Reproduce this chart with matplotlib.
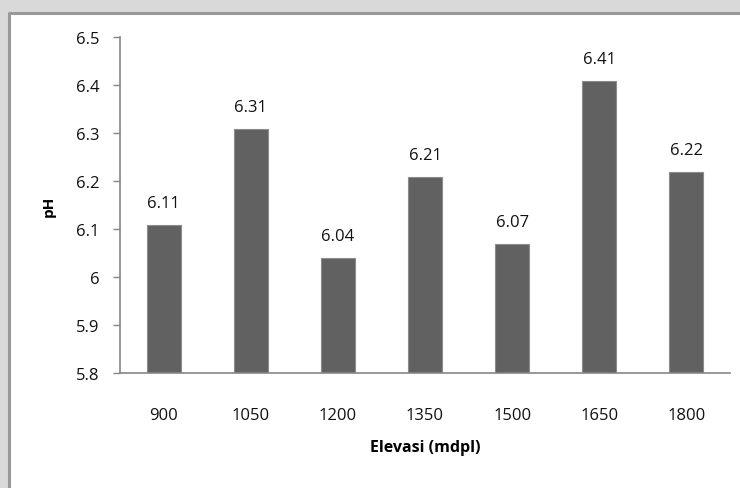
import matplotlib.pyplot as plt
from matplotlib.patches import Rectangle
from matplotlib.lines import Line2D

plt.rcParams['font.family'] = ['Open Sans', 'DejaVu Sans']

elevasi = ['900', '1050', '1200', '1350', '1500', '1650', '1800']
ph = [6.11, 6.31, 6.04, 6.21, 6.07, 6.41, 6.22]
yticks = [5.8, 5.9, 6.0, 6.1, 6.2, 6.3, 6.4, 6.5]
ytick_labels = ['5.8', '5.9', '6', '6.1', '6.2', '6.3', '6.4', '6.5']

fig = plt.figure(figsize=(7.4, 4.89), dpi=100)
fig.patch.set_facecolor('#d9d9d9')

# white chart panel, grey frame visible only on the top and left edges
px, py = 9 / 740, (489 - 14) / 489
fig.patches.append(Rectangle((px, 0), 1 - px, py, transform=fig.transFigure,
                             facecolor='white', edgecolor='none', zorder=-2))
fig.add_artist(Line2D([px, px, 1], [0, py, py], transform=fig.transFigure,
                      color='#999999', linewidth=2.2, zorder=-1))

ax = fig.add_axes([120 / 740, (489 - 374.3) / 489,
                   610 / 740, (374.3 - 38.3) / 489])
ax.set_facecolor('none')

x = range(len(elevasi))
bars = ax.bar(x, ph, width=0.39, bottom=0, color='#616161',
              edgecolor='#8c8c8c', linewidth=0.8)

for xi, v in zip(x, ph):
    ax.annotate(f'{v:.2f}', (xi, v), xytext=(0, 10), textcoords='offset points',
                ha='center', va='bottom', fontsize=12, color='#111111')

ax.set_xlim(-0.5, len(elevasi) - 0.5)
ax.set_ylim(5.8, 6.5)
ax.set_yticks(yticks)
ax.set_yticklabels(ytick_labels)
ax.set_xticks(list(x))
ax.set_xticklabels(elevasi)

for s in ['top', 'right']:
    ax.spines[s].set_visible(False)
for s in ['left', 'bottom']:
    ax.spines[s].set_color('#868686')
    ax.spines[s].set_linewidth(1.2)

ax.tick_params(axis='y', length=5, width=1, color='#868686',
               labelsize=12, labelcolor='#111111', pad=10)
ax.tick_params(axis='x', length=0, labelsize=12, labelcolor='#111111', pad=24)

ax.set_ylabel('pH', fontsize=11, fontweight='bold', labelpad=14)
ax.set_xlabel('Elevasi (mdpl)', fontsize=11.5, fontweight='bold', labelpad=12)

plt.savefig('out.png', dpi=100, facecolor=fig.get_facecolor())
